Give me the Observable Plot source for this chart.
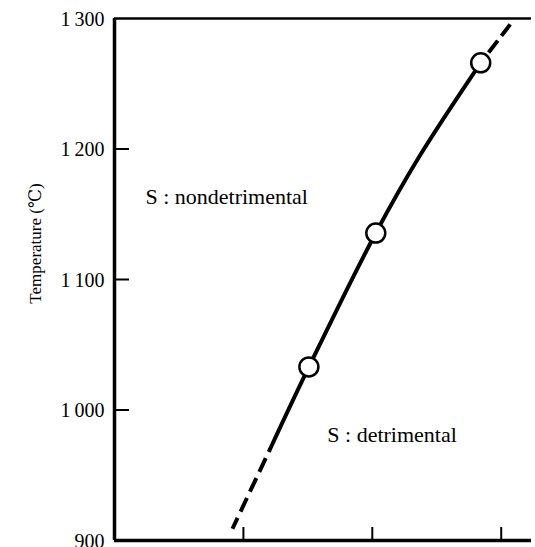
<!DOCTYPE html>
<html>
<head>
<meta charset="utf-8">
<script src="https://cdn.jsdelivr.net/npm/d3@7"></script>
<script src="https://cdn.jsdelivr.net/npm/@observablehq/plot@0.6"></script>
<style>
  html, body { margin: 0; padding: 0; background: #fff; }
  svg { display: block; }
</style>
</head>
<body>
<div id="chart"></div>
<script>
// ---- data ----
const yTickValues = [900, 1000, 1100, 1200, 1300];
const yInnerTicks = [1000, 1100, 1200];
const xTickValues = [1, 2, 3];

// boundary curve (x in arbitrary units, y in °C)
const lowerDashX = [0.915, 1.209];
const lowerDashY = [909, 970.5];
const solidX = [1.209, 1.508, 2.027, 2.36, 2.841];
const solidY = [970.5, 1033, 1135.6, 1193.5, 1266];
const upperDashX = [2.841, 3.07];
const upperDashY = [1266, 1295.5];

// measured points
const pointX = [1.508, 2.027, 2.841];
const pointY = [1033, 1135.6, 1266];

// region labels
const labelText = ["S : nondetrimental", "S : detrimental"];
const labelX = [0.24, 1.651];
const labelY = [1163, 980.5];

const yTitle = "Temperature (\u2103)";

const toRows = (xs, ys) => xs.map((x, i) => ({x, y: ys[i]}));
const fmt = d => d >= 1000 ? `${Math.floor(d / 1000)}\u2009${String(d % 1000).padStart(3, "0")}` : `${d}`;

const chart = Plot.plot({
  width: 535,
  height: 547,
  marginLeft: 114,
  marginTop: 18,
  marginBottom: 7,
  marginRight: 4,
  style: {fontFamily: "'Liberation Serif', 'DejaVu Serif', serif", fontSize: "20px", color: "#000", background: "#fff"},
  x: {domain: [0, 3.235]},
  y: {domain: [900, 1300]},
  marks: [
    // frame
    Plot.ruleX([0], {stroke: "#000", strokeWidth: 3.5}),
    Plot.ruleY([900], {stroke: "#000", strokeWidth: 3.5}),
    Plot.ruleY([1300], {stroke: "#000", strokeWidth: 2.5}),
    // inward ticks
    Plot.axisY(yInnerTicks, {tickSize: -15, tickFormat: () => "", strokeWidth: 2, label: null}),
    Plot.axisX(xTickValues, {tickSize: -13, tickFormat: () => "", strokeWidth: 2, label: null, anchor: "bottom"}),
    // tick labels
    Plot.axisY(yTickValues, {tickSize: 0, tickPadding: 10, tickFormat: fmt, fontSize: 20, dy: 1, label: null}),
    // y title
    Plot.text([yTitle], {text: d => d, frameAnchor: "left", textAnchor: "middle", rotate: -90, dx: -79, dy: -36, fontSize: 17}),
    // curve
    Plot.line(toRows(lowerDashX, lowerDashY), {x: "x", y: "y", stroke: "#000", strokeWidth: 4, strokeDasharray: "15,7", strokeDashoffset: 3, strokeLinecap: "butt"}),
    Plot.line(toRows(solidX, solidY), {x: "x", y: "y", stroke: "#000", strokeWidth: 4, curve: "catmull-rom"}),
    Plot.line(toRows(upperDashX, upperDashY), {x: "x", y: "y", stroke: "#000", strokeWidth: 4, strokeDasharray: "15,6", strokeDashoffset: 8, strokeLinecap: "butt"}),
    // points
    Plot.dot(toRows(pointX, pointY), {x: "x", y: "y", r: 9.5, fill: "#fff", stroke: "#000", strokeWidth: 2.5}),
    // labels
    Plot.text(labelText.map((t, i) => ({t, x: labelX[i], y: labelY[i]})), {x: "x", y: "y", text: "t", textAnchor: "start", fontSize: 22, letterSpacing: "0.8px", fill: "#000"})
  ]
});
document.getElementById("chart").appendChild(chart);
</script>
</body>
</html>
